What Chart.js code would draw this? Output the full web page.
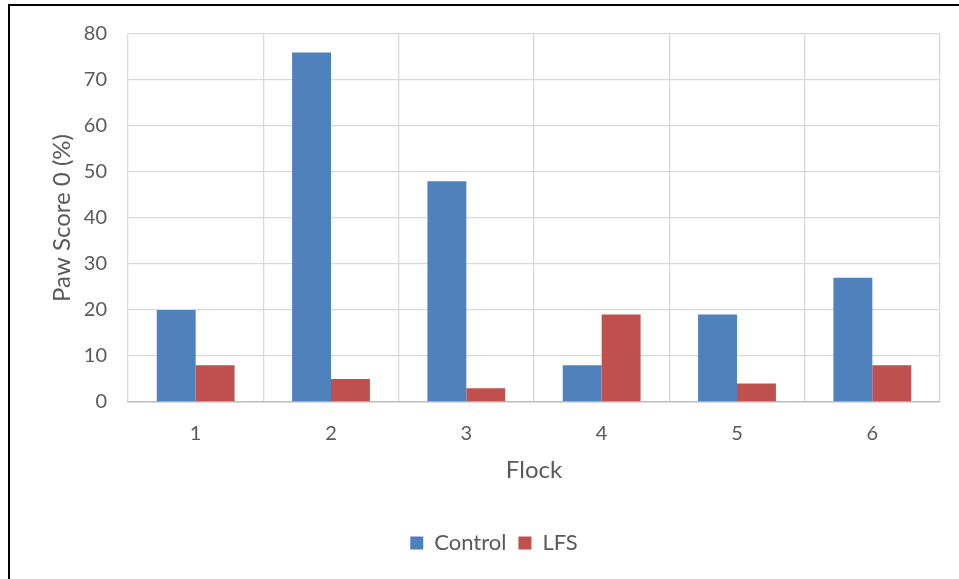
<!DOCTYPE html>
<html>
<head>
<meta charset="utf-8">
<script src="https://cdn.jsdelivr.net/npm/chart.js@4/dist/chart.umd.min.js"></script>
<style>
html,body{margin:0;padding:0;background:#fff;}
#wrap{width:959px;height:579px;position:relative;}
</style>
</head>
<body>
<div id="wrap"><canvas id="c" width="959" height="579"></canvas></div>
<script>
const categories = ['1','2','3','4','5','6'];
const controlValues = [20, 76, 48, 8, 19, 27];
const lfsValues = [8, 5, 3, 19, 4, 8];
const seriesNames = ['Control', 'LFS'];
const yTicks = [0,10,20,30,40,50,60,70,80];

const FONT = 'Lato, "Open Sans", sans-serif';
const TXT = '#595959';

const frame = {
  id: 'frame',
  beforeDraw(chart) {
    const ctx = chart.ctx;
    ctx.save();
    ctx.fillStyle = '#fff';
    ctx.fillRect(0,0,chart.width,chart.height);
    ctx.restore();
  },
  afterDraw(chart) {
    const ctx = chart.ctx;
    ctx.save();
    ctx.fillStyle = '#000';
    ctx.fillRect(8, 4, chart.width - 8, 2);
    ctx.fillRect(8, 4, 2, chart.height - 4);
    ctx.restore();
  }
};

new Chart(document.getElementById('c'), {
  type: 'bar',
  data: {
    labels: categories,
    datasets: [
      { label: seriesNames[0], data: controlValues, backgroundColor: '#4F81BD', borderWidth: 0 },
      { label: seriesNames[1], data: lfsValues, backgroundColor: '#C0504D', borderWidth: 0 }
    ]
  },
  options: {
    responsive: false,
    animation: false,
    devicePixelRatio: 1,
    layout: { padding: { left: 48, right: 19, top: 34, bottom: 15 } },
    datasets: { bar: { categoryPercentage: 0.575, barPercentage: 1.0 } },
    plugins: {
      legend: {
        position: 'bottom',
        labels: { font: { family: FONT, size: 22 }, color: TXT, boxWidth: 13, boxHeight: 13, padding: 12 }
      },
      tooltip: { enabled: false }
    },
    scales: {
      x: {
        grid: { color: '#d9d9d9', lineWidth: 1.3, drawTicks: false, offset: true },
        border: { color: '#bfbfbf', width: 1.5 },
        ticks: { font: { family: FONT, size: 20 }, color: TXT, padding: 20 },
        title: { display: true, text: 'Flock', font: { family: FONT, size: 24 }, color: TXT, padding: { top: 0, bottom: 35 } },
        afterFit(scale) { scale.height = 118; }
      },
      y: {
        min: 0, max: 80,
        afterBuildTicks(scale) { scale.ticks = yTicks.map(v => ({ value: v })); },
        grid: { color: '#d9d9d9', lineWidth: 1.3, drawTicks: false },
        border: { display: false },
        ticks: { font: { family: FONT, size: 20 }, color: TXT, padding: 21 },
        title: { display: true, text: 'Paw Score 0 (%)', font: { family: FONT, size: 24 }, color: TXT, padding: { top: 0, bottom: 10 } },
        afterFit(scale) { scale.width = 80; }
      }
    }
  },
  plugins: [frame]
});
</script>
</body>
</html>
